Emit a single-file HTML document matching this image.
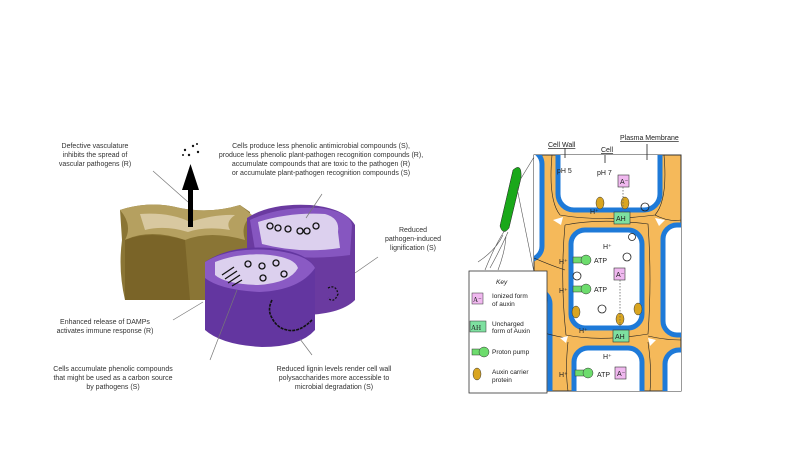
<!DOCTYPE html>
<html><head><meta charset="utf-8"><style>
html,body{margin:0;padding:0;background:#fff}
svg{display:block}
text{font-family:"Liberation Sans",sans-serif}
.s{font-size:7px;fill:#333}
.r{font-family:"Liberation Serif",serif;fill:#222}
</style></head><body>
<svg width="800" height="449" viewBox="0 0 800 449" xmlns="http://www.w3.org/2000/svg">
<rect width="800" height="449" fill="#fff"/>
<path d="M120 210 Q150 200 180 208 Q210 214 240 205 L250 212 L250 270 L215 300 L125 300 Q118 270 122 240 Z" fill="#8a7535"/>
<path d="M120 210 Q150 200 180 208 Q210 214 240 205 L252 215 Q240 225 245 240 Q210 230 185 240 Q150 228 125 240 Q133 225 120 210 Z" fill="#b5a060"/>
<path d="M140 214 Q170 212 190 222 Q215 214 235 215 Q225 222 230 230 Q205 226 188 232 Q165 225 145 230 Z" fill="#d8c8a0"/>
<path d="M125 240 Q150 230 185 240 L190 300 L125 300 Z" fill="#7a6428"/>
<path d="M247 218 Q270 203 310 205 Q345 208 355 225 L355 300 Q340 315 300 315 Q260 312 247 300 Z" fill="#6a3aa0"/>
<path d="M250 220 Q280 206 320 208 Q350 212 352 225 L350 255 Q300 262 255 250 Z" fill="#8656c0"/>
<path d="M258 222 Q290 212 325 214 Q340 218 338 232 L340 248 Q300 254 262 244 Z" fill="#dcd0ee"/>
<path d="M205 262 Q230 245 270 248 Q308 252 315 268 L315 330 Q300 347 262 347 Q222 345 205 330 Z" fill="#6336a0"/>
<path d="M205 262 Q230 247 270 250 Q308 254 315 268 Q300 290 260 292 Q220 290 205 278 Z" fill="#8a5ac4"/>
<path d="M215 262 Q240 252 270 255 Q295 258 298 268 Q290 283 258 285 Q225 284 215 275 Z" fill="#dcd0ee"/>
<g fill="none" stroke="#111" stroke-width="1.3">
<circle cx="270" cy="226" r="3"/><circle cx="278" cy="228" r="3"/><circle cx="288" cy="229" r="3"/><circle cx="300" cy="231" r="3"/><circle cx="307" cy="231" r="3"/><circle cx="316" cy="226" r="3"/>
<circle cx="248" cy="264" r="3"/><circle cx="262" cy="266" r="3"/><circle cx="276" cy="263" r="3"/><circle cx="263" cy="278" r="3"/><circle cx="284" cy="274" r="3"/>
<path d="M222 275 l12 -8 M225 279 l12 -8 M228 283 l12 -8 M232 286 l10 -6"/>
<path d="M272 300 q-5 10 0 18 q5 10 15 12 q12 3 25 -10" stroke-width="1.6" stroke-dasharray="3 1"/>
<path d="M328 288 q8 -4 10 6 q-4 10 -10 4" stroke-dasharray="2 1.5"/>
</g>
<rect x="188" y="185" width="5" height="42" fill="#000"/>
<path d="M182 190 L190.5 164 L199 190 Z" fill="#000"/>
<g fill="#111"><circle cx="185" cy="150" r="1.2"/><circle cx="193" cy="146" r="1.2"/><circle cx="198" cy="152" r="1.2"/><circle cx="189" cy="155" r="1.2"/><circle cx="183" cy="155" r="1"/><circle cx="197" cy="144" r="1"/></g>
<g stroke="#777" stroke-width="0.7">
<line x1="153" y1="171" x2="188" y2="202"/>
<line x1="322" y1="194" x2="306" y2="218"/>
<line x1="378" y1="257" x2="355" y2="273"/>
<line x1="173" y1="320" x2="203" y2="302"/>
<line x1="210" y1="360" x2="237" y2="290"/>
<line x1="312" y1="355" x2="300" y2="339"/>
</g>
<g class="s" text-anchor="middle">
<text x="95" y="148">Defective vasculature</text>
<text x="95" y="157">inhibits the spread of</text>
<text x="95" y="166">vascular pathogens (R)</text>
<text x="321" y="148">Cells produce less phenolic antimicrobial compounds (S),</text>
<text x="321" y="157">produce less phenolic plant-pathogen recognition compounds (R),</text>
<text x="321" y="166">accumulate compounds that are toxic to the pathogen (R)</text>
<text x="321" y="175">or accumulate plant-pathogen recognition compounds (S)</text>
<text x="413" y="232">Reduced</text>
<text x="413" y="241">pathogen-induced</text>
<text x="413" y="250">lignification (S)</text>
<text x="105" y="324">Enhanced release of DAMPs</text>
<text x="105" y="333">activates immune response (R)</text>
<text x="113" y="371">Cells accumulate phenolic compounds</text>
<text x="113" y="380">that might be used as a carbon source</text>
<text x="113" y="389">by pathogens (S)</text>
<text x="334" y="371">Reduced lignin levels render cell wall</text>
<text x="334" y="380">polysaccharides more accessible to</text>
<text x="334" y="389">microbial degradation (S)</text>
</g>

<rect x="534" y="155" width="147" height="236" fill="#f5b95a" stroke="#333" stroke-width="1"/>
<clipPath id="c"><rect x="534" y="155" width="147" height="236"/></clipPath>
<g clip-path="url(#c)" stroke="#1e7ad8" stroke-width="5" fill="#fff">
<rect x="558" y="140" width="102" height="70" rx="16"/>
<rect x="571" y="230" width="71" height="98" rx="14"/>
<rect x="574" y="348" width="68" height="60" rx="14"/>
<rect x="500" y="150" width="42" height="110" rx="14"/>
<rect x="500" y="290" width="50" height="120" rx="14"/>
<rect x="663" y="225" width="40" height="110" rx="14"/>
<rect x="665" y="350" width="40" height="70" rx="14"/>
</g>
<g clip-path="url(#c)" fill="none" stroke="#222" stroke-width="0.6">
<path d="M552 155 Q548 200 560 215 Q600 222 655 215 Q668 200 664 155"/>
<path d="M565 225 Q560 280 566 335 Q600 342 648 334 Q652 280 648 224 Q600 218 565 225"/>
<path d="M568 342 Q565 370 568 391 M648 342 Q652 370 650 391"/>
<path d="M534 258 Q550 265 565 270 M534 330 Q550 335 566 338 M681 220 Q668 222 655 215 M681 340 Q665 340 648 336"/>
</g>
<g clip-path="url(#c)" fill="#fff"><path d="M553 220 l10 -3 l-2 8 Z M655 218 l10 2 l-6 6 Z M560 338 l8 -2 l-2 7 Z M648 338 l8 2 l-6 6 Z"/></g>
<g fill="#d9a520" stroke="#333" stroke-width="0.5">
<ellipse cx="600" cy="203" rx="4" ry="6"/><ellipse cx="625" cy="203" rx="4" ry="6"/>
<ellipse cx="576" cy="312" rx="4" ry="6"/><ellipse cx="620" cy="319" rx="4" ry="6"/><ellipse cx="638" cy="309" rx="4" ry="6"/>
</g>
<g fill="#6ddc6d" stroke="#333" stroke-width="0.5">
<rect x="573" y="257" width="9" height="6"/><circle cx="586" cy="260" r="5"/>
<rect x="573" y="286" width="9" height="6"/><circle cx="586" cy="289" r="5"/>
<rect x="575" y="370" width="9" height="6"/><circle cx="588" cy="373" r="5"/>
</g>
<g stroke="#333" stroke-width="0.6">
<rect x="618" y="175" width="11" height="12" fill="#f0b8ef"/>
<rect x="614" y="212" width="16" height="12" fill="#7ee0a0"/>
<rect x="614" y="268" width="11" height="12" fill="#f0b8ef"/>
<rect x="613" y="330" width="16" height="12" fill="#7ee0a0"/>
<rect x="615" y="367" width="11" height="12" fill="#f0b8ef"/>
</g>
<g class="r" font-size="7">
<text x="620" y="184">A⁻</text><text x="616" y="221">AH</text><text x="616" y="277">A⁻</text><text x="615" y="339">AH</text><text x="617" y="376">A⁻</text>
<text x="557" y="173">pH 5</text><text x="597" y="175">pH 7</text>
<text x="590" y="214">H⁺</text><text x="603" y="249">H⁺</text><text x="559" y="264">H⁺</text><text x="594" y="263">ATP</text>
<text x="559" y="293">H⁺</text><text x="594" y="292">ATP</text><text x="579" y="333">H⁺</text>
<text x="603" y="359">H⁺</text><text x="559" y="377">H⁺</text><text x="597" y="377">ATP</text>
<text x="548" y="147" text-decoration="underline">Cell Wall</text>
<text x="601" y="152" text-decoration="underline">Cell</text>
<text x="620" y="140" text-decoration="underline">Plasma Membrane</text>
</g>
<g fill="none" stroke="#222" stroke-width="0.8">
<circle cx="645" cy="207" r="4"/><circle cx="632" cy="237" r="3.5"/><circle cx="627" cy="257" r="4"/><circle cx="577" cy="276" r="4"/><circle cx="602" cy="309" r="4"/>
<path d="M565 148 v10 M605 155 v8 M647 144 v16"/>
<path d="M623 187 v25 M620 280 v48" stroke-dasharray="1.5 1.5" stroke="#666"/>
</g>
<path d="M513 170 Q522 162 521 178 L509 228 Q503 236 500 226 Z" fill="#1aa81a" stroke="#222" stroke-width="0.5"/>
<g fill="none" stroke="#555" stroke-width="0.6">
<path d="M505 230 Q495 245 485 270 M508 232 Q500 250 490 268 M503 235 Q496 250 478 262 M506 236 Q505 252 498 270"/>
<line x1="520" y1="180" x2="534" y2="157"/><line x1="517" y1="188" x2="534" y2="272"/>
</g>
<rect x="469" y="271" width="78" height="122" fill="#fff" stroke="#333" stroke-width="0.8"/>
<g class="r" font-size="6.5">
<text x="496" y="284" font-style="italic">Key</text>
<text x="492" y="298">Ionized form</text><text x="492" y="306">of auxin</text>
<text x="492" y="326">Uncharged</text><text x="492" y="333">form of Auxin</text>
<text x="492" y="354">Proton pump</text>
<text x="492" y="374">Auxin carrier</text><text x="492" y="382">protein</text>
</g>
<rect x="472" y="293" width="11" height="11" fill="#f0b8ef" stroke="#333" stroke-width="0.5"/>
<text x="473" y="302" class="r" font-size="7">A⁻</text>
<rect x="470" y="321" width="16" height="11" fill="#7ee0a0" stroke="#333" stroke-width="0.5"/>
<text x="471" y="330" class="r" font-size="7">AH</text>
<rect x="472" y="349" width="9" height="6" fill="#6ddc6d" stroke="#333" stroke-width="0.5"/>
<circle cx="484" cy="352" r="5" fill="#6ddc6d" stroke="#333" stroke-width="0.5"/>
<ellipse cx="477" cy="374" rx="4" ry="6" fill="#d9a520" stroke="#333" stroke-width="0.5"/>
</svg>
</body></html>
